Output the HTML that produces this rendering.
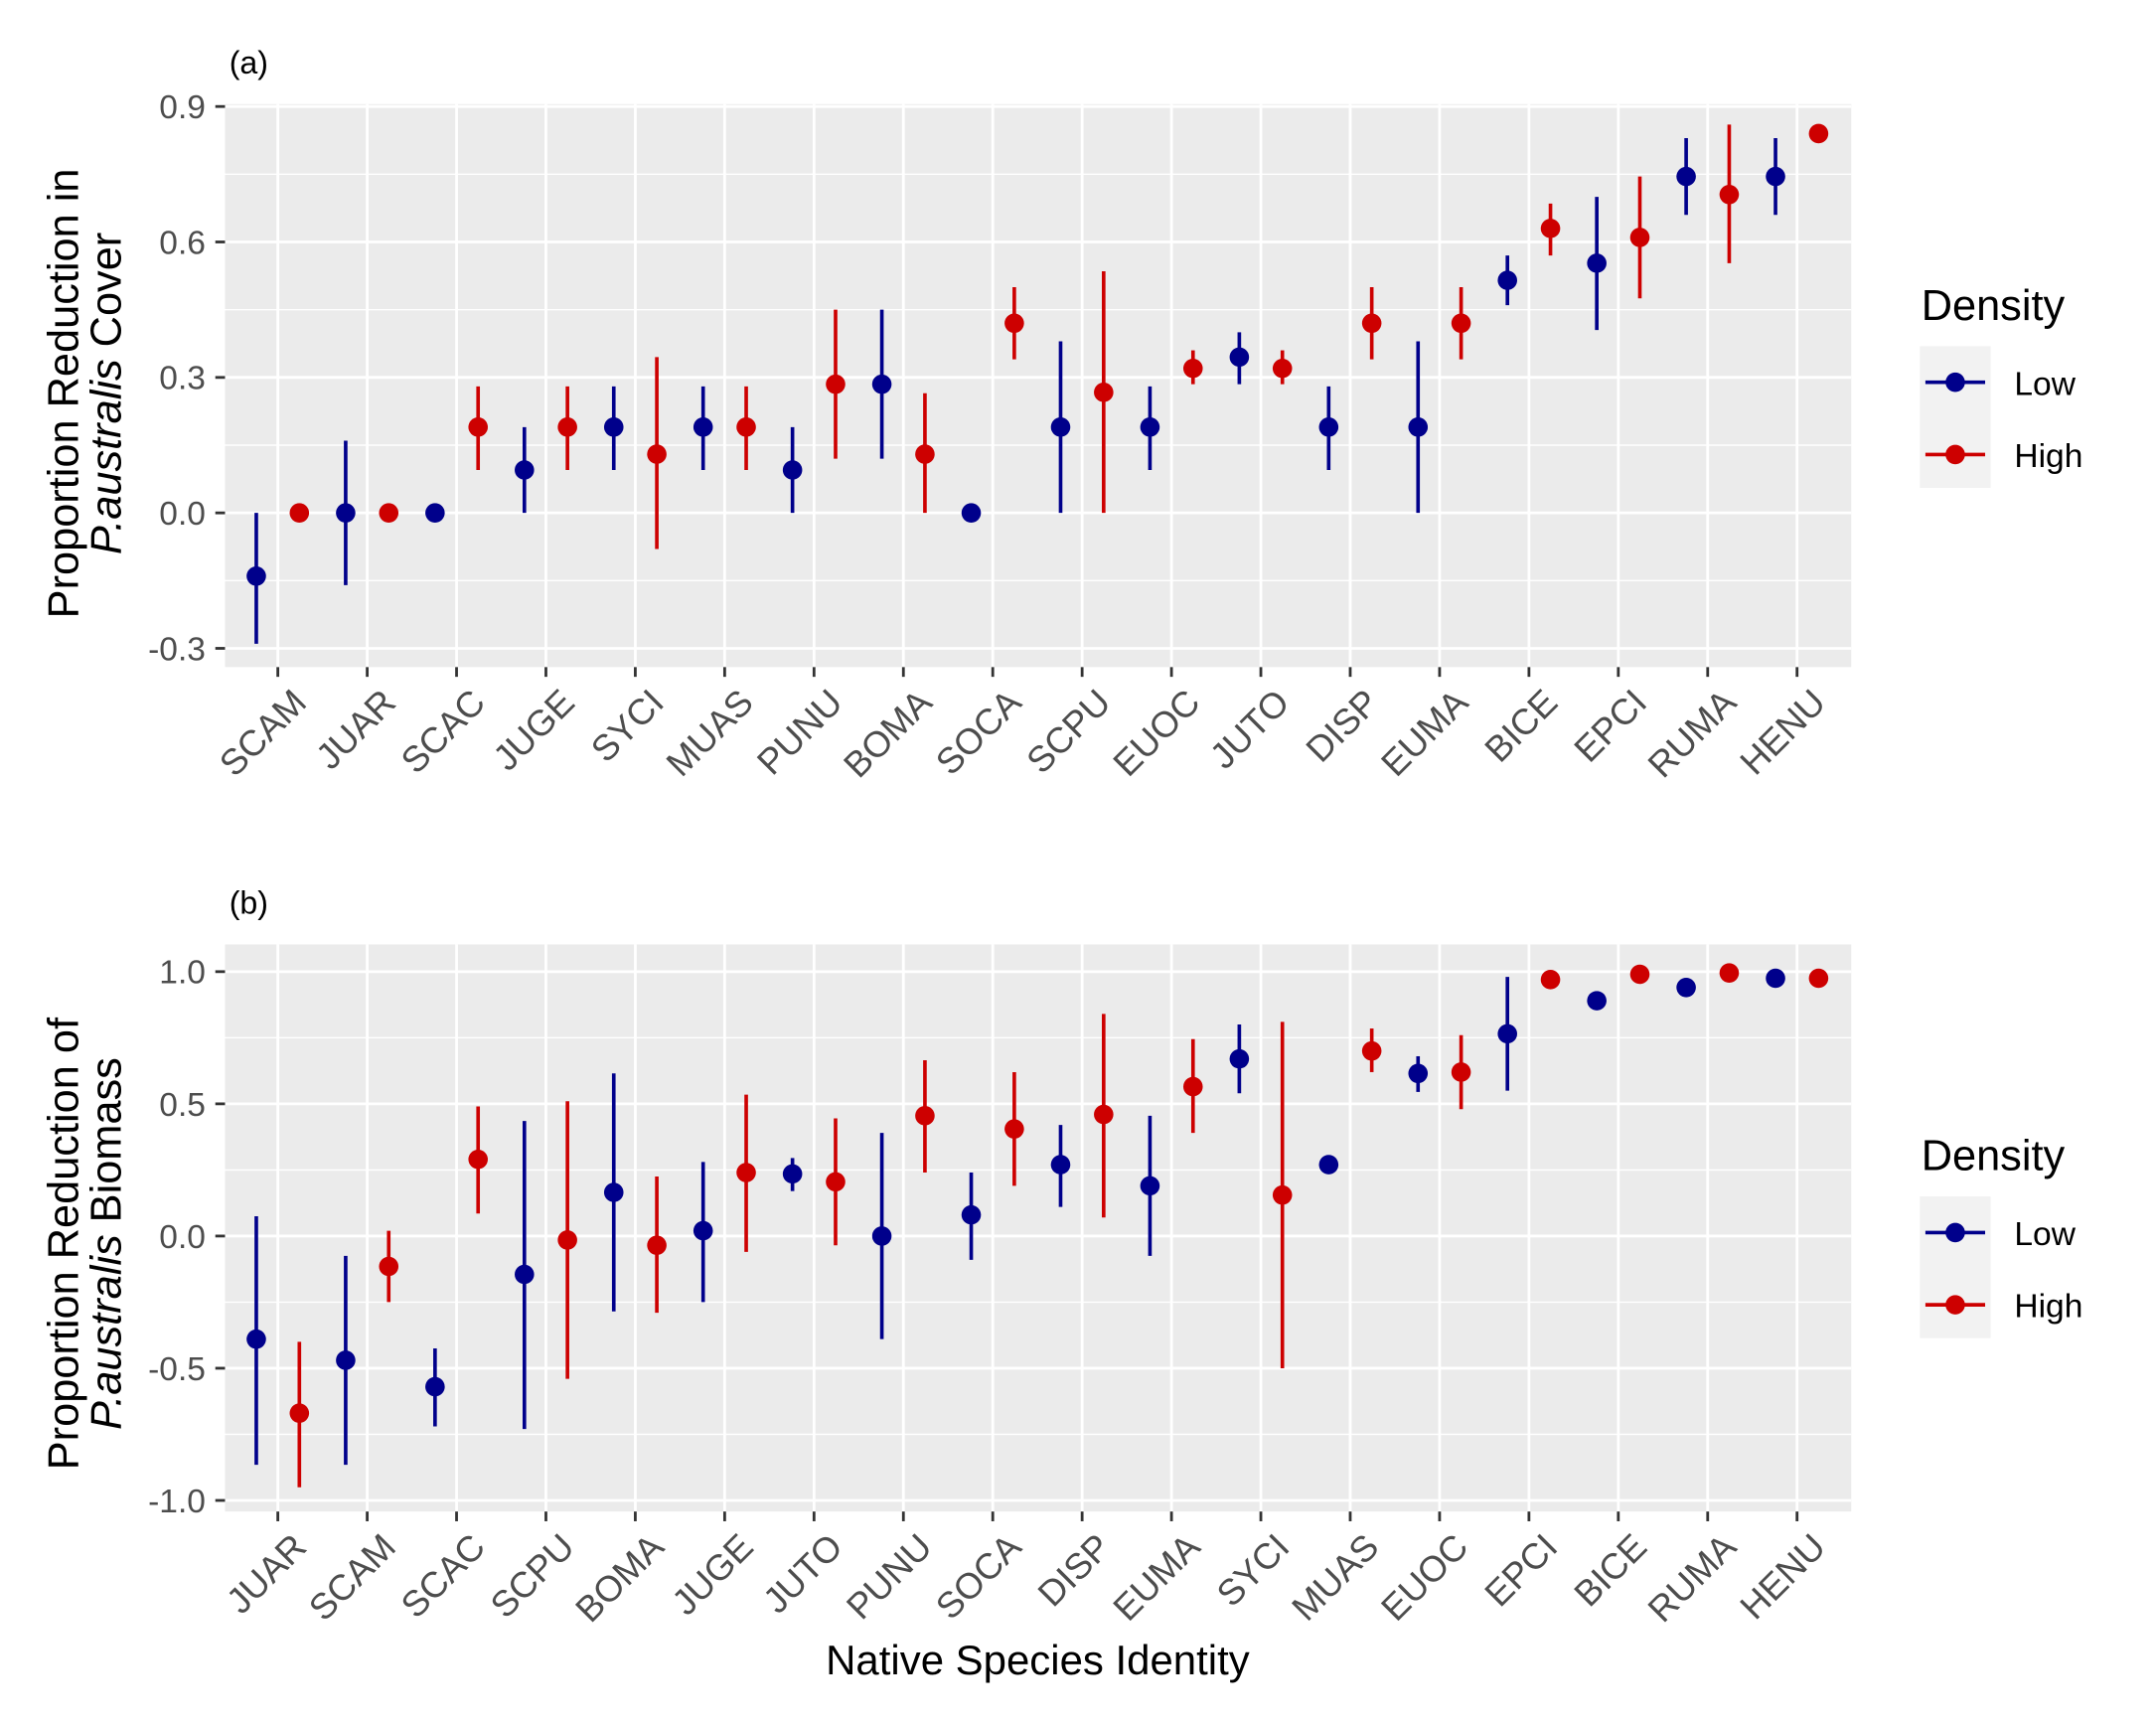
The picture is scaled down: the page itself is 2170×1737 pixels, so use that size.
<!DOCTYPE html>
<html><head><meta charset="utf-8"><style>
html,body{margin:0;padding:0;background:#fff;}
svg{display:block;font-family:"Liberation Sans",Arial,sans-serif;}
</style></head><body>
<svg id="fig" width="2170" height="1737" viewBox="0 0 1552 1242" xmlns="http://www.w3.org/2000/svg"></svg>
<script>
// Panel (a) data
const catsA = ["SCAM","JUAR","SCAC","JUGE","SYCI","MUAS","PUNU","BOMA","SOCA","SCPU","EUOC","JUTO","DISP","EUMA","BICE","EPCI","RUMA","HENU"];
const lowA   = [-0.14,0,0,0.095,0.19,0.19,0.095,0.285,0,0.19,0.19,0.345,0.19,0.19,0.515,0.553,0.745,0.745];
const lowAhi = [0,0.16,0,0.19,0.28,0.28,0.19,0.45,0,0.38,0.28,0.40,0.28,0.38,0.57,0.70,0.83,0.83];
const lowAlo = [-0.29,-0.16,0,0,0.095,0.095,0,0.12,0,0,0.095,0.285,0.095,0,0.46,0.405,0.66,0.66];
const highA   = [0,0,0.19,0.19,0.13,0.19,0.285,0.13,0.42,0.267,0.32,0.32,0.42,0.42,0.63,0.61,0.705,0.84];
const highAhi = [0,0,0.28,0.28,0.345,0.28,0.45,0.265,0.50,0.535,0.36,0.36,0.50,0.50,0.685,0.745,0.86,0.84];
const highAlo = [0,0,0.095,0.095,-0.08,0.095,0.12,0,0.34,0,0.285,0.285,0.34,0.34,0.57,0.475,0.553,0.84];
const ticksA = [0.9,0.6,0.3,0.0,-0.3];
const tickLabelsA = ["0.9","0.6","0.3","0.0","-0.3"];
const minorA = [0.75,0.45,0.15,-0.15];
// Panel (b) data
const catsB = ["JUAR","SCAM","SCAC","SCPU","BOMA","JUGE","JUTO","PUNU","SOCA","DISP","EUMA","SYCI","MUAS","EUOC","EPCI","BICE","RUMA","HENU"];
const lowB   = [-0.39,-0.47,-0.57,-0.145,0.165,0.02,0.235,0,0.08,0.27,0.19,0.67,0.27,0.615,0.765,0.89,0.94,0.975];
const lowBhi = [0.075,-0.075,-0.425,0.435,0.615,0.28,0.295,0.39,0.24,0.42,0.455,0.80,0.305,0.68,0.98,0.89,0.94,0.975];
const lowBlo = [-0.865,-0.865,-0.72,-0.73,-0.285,-0.25,0.17,-0.39,-0.09,0.11,-0.075,0.54,0.24,0.545,0.55,0.89,0.94,0.975];
const highB   = [-0.67,-0.115,0.29,-0.015,-0.035,0.24,0.205,0.455,0.405,0.46,0.565,0.155,0.70,0.62,0.97,0.99,0.995,0.975];
const highBhi = [-0.40,0.02,0.49,0.51,0.225,0.535,0.445,0.665,0.62,0.84,0.745,0.81,0.785,0.76,0.97,0.99,0.995,0.975];
const highBlo = [-0.95,-0.25,0.085,-0.54,-0.29,-0.06,-0.035,0.24,0.19,0.07,0.39,-0.50,0.62,0.48,0.97,0.99,0.995,0.975];
const ticksB = [1.0,0.5,0.0,-0.5,-1.0];
const tickLabelsB = ["1.0","0.5","0.0","-0.5","-1.0"];
const minorB = [0.75,0.25,-0.25,-0.75];
const legendLabels = ["Low","High"];

const NS="http://www.w3.org/2000/svg";
const svg=document.getElementById('fig');
const LOW="#00008B", HIGH="#CD0000";
function mk(tag,attrs,parent){const e=document.createElementNS(NS,tag);for(const k in attrs)e.setAttribute(k,attrs[k]);(parent||svg).appendChild(e);return e;}

function panel(cfg){
  const g=mk('g',{});
  
  
  const x0=162,x1=1332.6,top=cfg.top,bot=cfg.bot;
  const y=v=>cfg.zeroY-v*cfg.unit;
  const xt=i=>200+i*64.33;
  const bg=mk('rect',{x:x0,y:top,width:x1-x0,height:bot-top,fill:"#EBEBEB"},g);
  
  
  cfg.minor.forEach(v=>{const l=mk('line',{x1:x0,x2:x1,y1:y(v),y2:y(v),stroke:"#fff","stroke-width":1},g);
    });
  cfg.ticks.forEach((v,i)=>{
    const l=mk('line',{x1:x0,x2:x1,y1:y(v),y2:y(v),stroke:"#fff","stroke-width":2},g);
    
    const tm=mk('line',{x1:155,x2:162,y1:y(v),y2:y(v),stroke:"#333","stroke-width":2},g);
    
    const t=mk('text',{x:148,y:y(v)+8.5,"text-anchor":"end","font-size":24,fill:"#4D4D4D"},g);
    t.textContent=cfg.tickLabels[i];
    
  });
  cfg.cats.forEach((c,i)=>{
    const l=mk('line',{x1:xt(i),x2:xt(i),y1:top,y2:bot,stroke:"#fff","stroke-width":2},g);
    
    const tm=mk('line',{x1:xt(i),x2:xt(i),y1:bot,y2:bot+7,stroke:"#333","stroke-width":2},g);
    
    const tx=xt(i)+22, ty=bot+27;
    const t=mk('text',{x:tx,y:ty,"text-anchor":"end","font-size":26,fill:"#4D4D4D",transform:`rotate(-45 ${tx} ${ty})`},g);
    t.textContent=c;
    
  });
  const series=[[cfg.low,cfg.lowHi,cfg.lowLo,LOW,-15.5,'low'],[cfg.high,cfg.highHi,cfg.highLo,HIGH,15.5,'high']];
  series.forEach(([vals,hi,lo,col,dx,nm])=>{
    vals.forEach((v,i)=>{
      const cx=xt(i)+dx;
      if(hi[i]!==lo[i]){
        const e=mk('line',{x1:cx,x2:cx,y1:y(hi[i]),y2:y(lo[i]),stroke:col,"stroke-width":2.6},g);
        
      }
      const d=mk('circle',{cx:cx,cy:y(v),r:7,fill:col},g);
      
    });
  });
  const lab=mk('text',{x:165,y:top-22,"font-size":23,fill:"#000"},g);
  lab.textContent=cfg.label;
  
  const cy=cfg.titleY;
  const t1=mk('text',{x:0,y:0,"text-anchor":"middle","font-size":31,fill:"#000",transform:`translate(56 ${cy}) rotate(-90)`},g);
  t1.textContent=cfg.title1;
  
  const t2=mk('text',{x:0,y:0,"text-anchor":"middle","font-size":31,fill:"#000",transform:`translate(87 ${cy}) rotate(-90)`},g);
  const it=mk('tspan',{"font-style":"italic"},t2);it.textContent="P.australis";
  const rest=mk('tspan',{},t2);rest.textContent=" "+cfg.title2;
  
  // legend
  const ly=cfg.legendTop;
  const lg=mk('g',{},g);
  
  const lt=mk('text',{x:1383,y:ly+9,"font-size":31,fill:"#000"},lg);
  lt.textContent="Density";
  
  const kb=mk('rect',{x:1382,y:ly+28,width:51,height:102,fill:"#F2F2F2"},lg);
  
  legendLabels.forEach((s,k)=>{
    const yy=ly+54+k*52, col=k?HIGH:LOW;
    const e=mk('g',{},lg);
    
    mk('line',{x1:1386,x2:1429,y1:yy,y2:yy,stroke:col,"stroke-width":2.6},e);
    mk('circle',{cx:1407.5,cy:yy,r:7,fill:col},e);
    const tt=mk('text',{x:1450,y:yy+9,"font-size":24,fill:"#000"},e);tt.textContent=s;
  });
}

panel({name:'panel-a-cover',top:74.8,bot:480,zeroY:369,unit:325,cats:catsA,low:lowA,lowHi:lowAhi,lowLo:lowAlo,high:highA,highHi:highAhi,highLo:highAlo,
  ticks:ticksA,tickLabels:tickLabelsA,minor:minorA,label:"(a)",title1:"Proportion Reduction in",title2:"Cover",titleY:283,legendTop:221});
panel({name:'panel-b-biomass',top:679.6,bot:1087.8,zeroY:889.5,unit:190.3,cats:catsB,low:lowB,lowHi:lowBhi,lowLo:lowBlo,high:highB,highHi:highBhi,highLo:highBlo,
  ticks:ticksB,tickLabels:tickLabelsB,minor:minorB,label:"(b)",title1:"Proportion Reduction of",title2:"Biomass",titleY:895,legendTop:833});

const xt=mk('text',{x:747,y:1205,"text-anchor":"middle","font-size":30,fill:"#000"});
xt.textContent="Native Species Identity";


</script>
</body></html>
